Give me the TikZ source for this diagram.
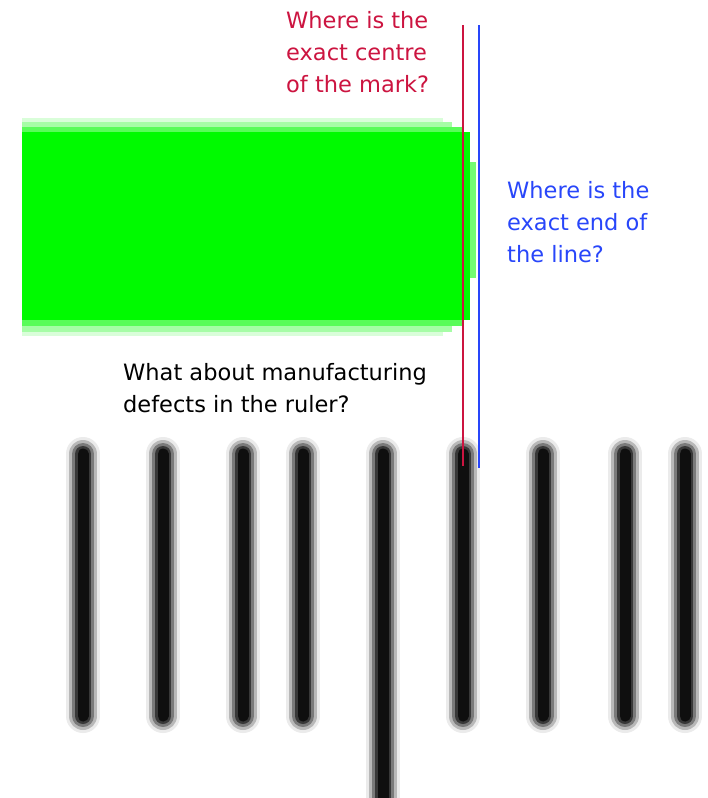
\documentclass[tikz,border=0pt]{standalone}
\usepackage{fontspec}
\setmainfont{DejaVu Sans}
\usepackage{xcolor}
\usetikzlibrary{positioning}
\definecolor{markgreen}{RGB}{0,250,0}
\definecolor{centrered}{RGB}{204,20,64}
\definecolor{endblue}{RGB}{40,70,250}

\begin{document}
\begin{tikzpicture}[
    x=1pt, y=-1pt,
    font=\fontsize{22.5}{32}\selectfont,
    note/.style={align=left, inner sep=0pt, anchor=north west},
    guide/.style={line width=1.8pt},
    tickline/.style={line cap=round}
]
\useasboundingbox[fill=white] (0,0) rectangle (708,798);

% the pen mark, with its soft edges
\fill[markgreen!15] (22,118) rectangle (443,336);
\fill[markgreen!35] (22,122) rectangle (452,332);
\fill[markgreen!65] (22,127) rectangle (462,326);
\fill[markgreen] (22,132) rectangle (470,320);
\fill[markgreen!55] (470,162) rectangle (476,278);

% ruler ticks (blurred)
\foreach \tx/\ty in {83/716, 163/716, 243/716, 303/716, 383/830, 463/716, 543/716, 625/716, 685/716} {
    \draw[tickline, black!8, line width=34pt] (\tx,454) -- (\tx,\ty);
    \draw[tickline, black!28, line width=28pt] (\tx,454) -- (\tx,\ty);
    \draw[tickline, black!52, line width=22pt] (\tx,454) -- (\tx,\ty);
    \draw[tickline, black!78, line width=16pt] (\tx,454) -- (\tx,\ty);
    \draw[tickline, black!94, line width=11pt] (\tx,454) -- (\tx,\ty);
}

\coordinate (ctop) at (463,25);
\coordinate (cbot) at (463,466);
\coordinate (etop) at (479,25);
\coordinate (ebot) at (479,468);
\draw[guide, centrered] (ctop) -- (cbot);
\draw[guide, endblue] (etop) -- (ebot);

\node[note, text=centrered] (centre) at (286,11) {Where is the\\exact centre\\of the mark?};
\node[note, text=endblue] (lineend) at (507,181) {Where is the\\exact end of\\the line?};
\node[note] (defects) at (123,363) {What about manufacturing\\defects in the ruler?};
\end{tikzpicture}
\end{document}
